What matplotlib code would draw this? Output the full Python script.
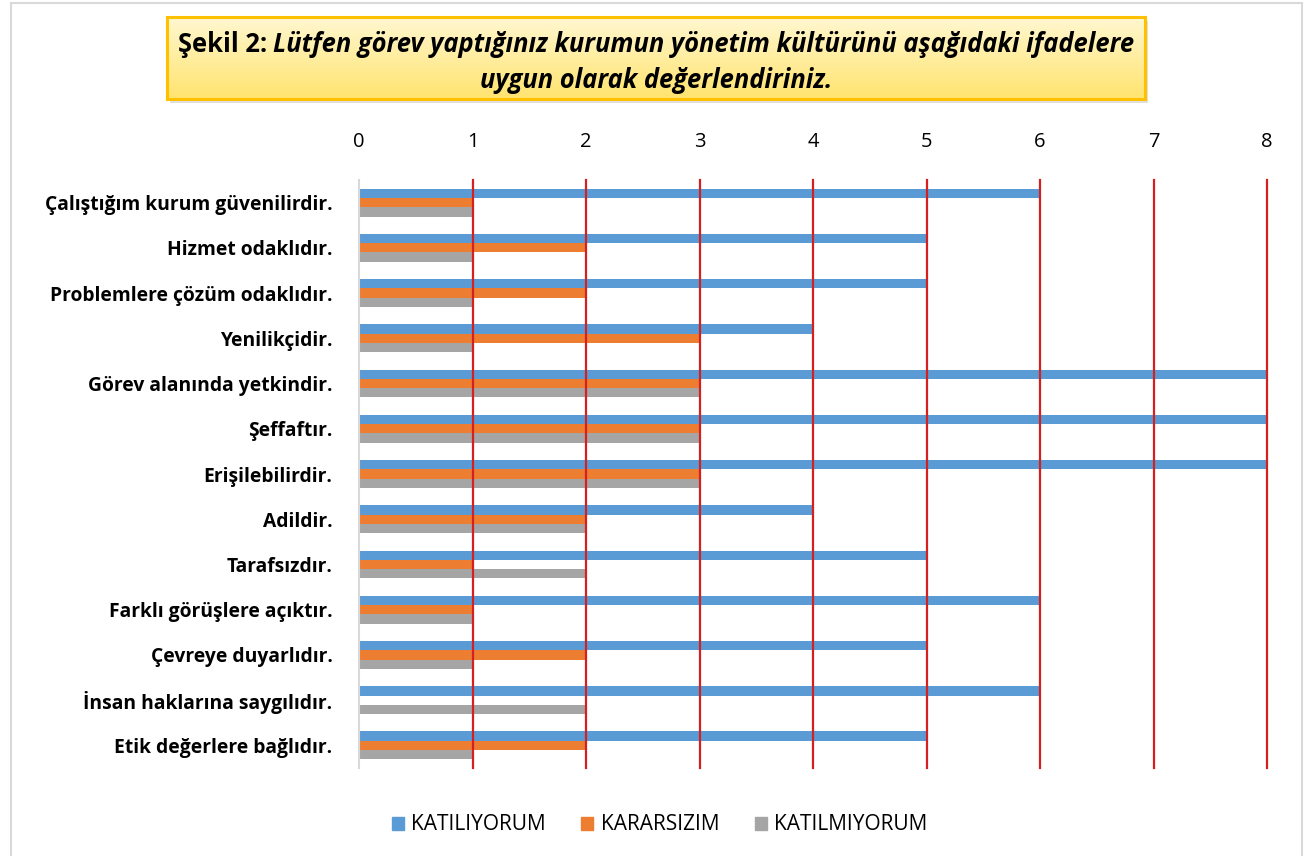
import numpy as np
import matplotlib.pyplot as plt
from matplotlib.patches import Rectangle, Patch
from matplotlib.colors import LinearSegmentedColormap

plt.rcParams['font.family'] = ['Open Sans', 'DejaVu Sans']

# verileri
categories = [
    "Çalıştığım kurum güvenilirdir.",
    "Hizmet odaklıdır.",
    "Problemlere çözüm odaklıdır.",
    "Yenilikçidir.",
    "Görev alanında yetkindir.",
    "Şeffaftır.",
    "Erişilebilirdir.",
    "Adildir.",
    "Tarafsızdır.",
    "Farklı görüşlere açıktır.",
    "Çevreye duyarlıdır.",
    "İnsan haklarına saygılıdır.",
    "Etik değerlere bağlıdır.",
]
katiliyorum = [6, 5, 5, 4, 8, 8, 8, 4, 5, 6, 5, 6, 5]
kararsizim = [1, 2, 2, 3, 3, 3, 3, 2, 1, 1, 2, 0, 2]
katilmiyorum = [1, 1, 1, 1, 3, 3, 3, 2, 2, 1, 1, 2, 1]
series_names = ["KATILIYORUM", "KARARSIZIM", "KATILMIYORUM"]
colors = ["#5B9BD5", "#ED7D31", "#A5A5A5"]
xticks = [0, 1, 2, 3, 4, 5, 6, 7, 8]

W, H = 1306, 856
fig = plt.figure(figsize=(W / 100, H / 100), dpi=100)

# dış çerçeve
fig.patches.append(Rectangle((11 / W, -0.01), (1302 - 11) / W, 1.01 - 3 / H,
                             transform=fig.transFigure, fill=False,
                             edgecolor="#D9D9D9", linewidth=1.5))

ax = fig.add_axes([359 / W, 1 - 768 / H, (1267 - 359) / W, (768 - 180) / H])

y = np.arange(len(categories))
h = 0.205
for vals, off, c, name in zip([katiliyorum, kararsizim, katilmiyorum],
                              [-0.205, 0.0, 0.205], colors, series_names):
    ax.barh(y + off, vals, height=h, color=c, label=name, zorder=2, linewidth=0)

for v in xticks[1:]:
    ax.axvline(v, color="#D42020", linewidth=1.6, zorder=3, clip_on=False)

ax.set_xlim(0, 8)
ax.set_ylim(12.5, -0.5)
ax.set_xticks(xticks)
ax.xaxis.tick_top()
ax.set_yticks(y)
ax.set_yticklabels(categories, fontweight="bold", fontsize=13.9)
ax.tick_params(axis="x", length=0, labelsize=14.5, pad=20)
ax.tick_params(axis="y", length=0, pad=19)
for s in ["top", "right", "bottom"]:
    ax.spines[s].set_visible(False)
ax.spines["left"].set_color("#D9D9D9")
ax.spines["left"].set_linewidth(1.5)

# lejant
handles = [Patch(color=c, label=n) for c, n in zip(colors, series_names)]
fig.legend(handles=handles, loc="center", bbox_to_anchor=(0.505, 1 - 825 / H),
           ncol=3, frameon=False, fontsize=15, handlelength=0.58, handleheight=0.58,
           columnspacing=1.7, handletextpad=0.35)

# başlık kutusu
bx0, by0, bx1, by1 = 167, 17, 1145, 99
fig.patches.append(Rectangle(((bx0 + 3) / W, 1 - (by1 + 4) / H), (bx1 - bx0) / W,
                             (by1 - by0) / H, transform=fig.transFigure,
                             facecolor="#CCCCCC", edgecolor="none", alpha=0.6, zorder=-1))
tax = fig.add_axes([bx0 / W, 1 - by1 / H, (bx1 - bx0) / W, (by1 - by0) / H])
tax.set_zorder(1)
cmap = LinearSegmentedColormap.from_list("yel", ["#FFF7D0", "#FFE46F"])
tax.imshow(np.linspace(0, 1, 100).reshape(-1, 1), cmap=cmap, aspect="auto",
           extent=[0, 1, 0, 1], interpolation="bilinear")
tax.set_xticks([])
tax.set_yticks([])
for s in tax.spines.values():
    s.set_color("#FFC000")
    s.set_linewidth(2.2)

fs = 18.4
fig.canvas.draw()
r = fig.canvas.get_renderer()
t1 = fig.text(0, 1 - 45 / H, "Şekil 2: ", fontsize=fs, fontweight="bold",
              va="center", zorder=5)
t2 = fig.text(0, 1 - 45 / H,
              "Lütfen görev yaptığınız kurumun yönetim kültürünü aşağıdaki ifadelere",
              fontsize=fs, fontweight="bold", fontstyle="italic", va="center", zorder=5)
w1 = t1.get_window_extent(r).width
w2 = t2.get_window_extent(r).width
cx = (bx0 + bx1) / 2
start = cx - (w1 + w2) / 2
t1.set_x(start / W)
t2.set_x((start + w1) / W)
fig.text(cx / W, 1 - 80 / H, "uygun olarak değerlendiriniz.", fontsize=fs,
         fontweight="bold", fontstyle="italic", ha="center", va="center", zorder=5)

fig.savefig("out.png", dpi=100)
